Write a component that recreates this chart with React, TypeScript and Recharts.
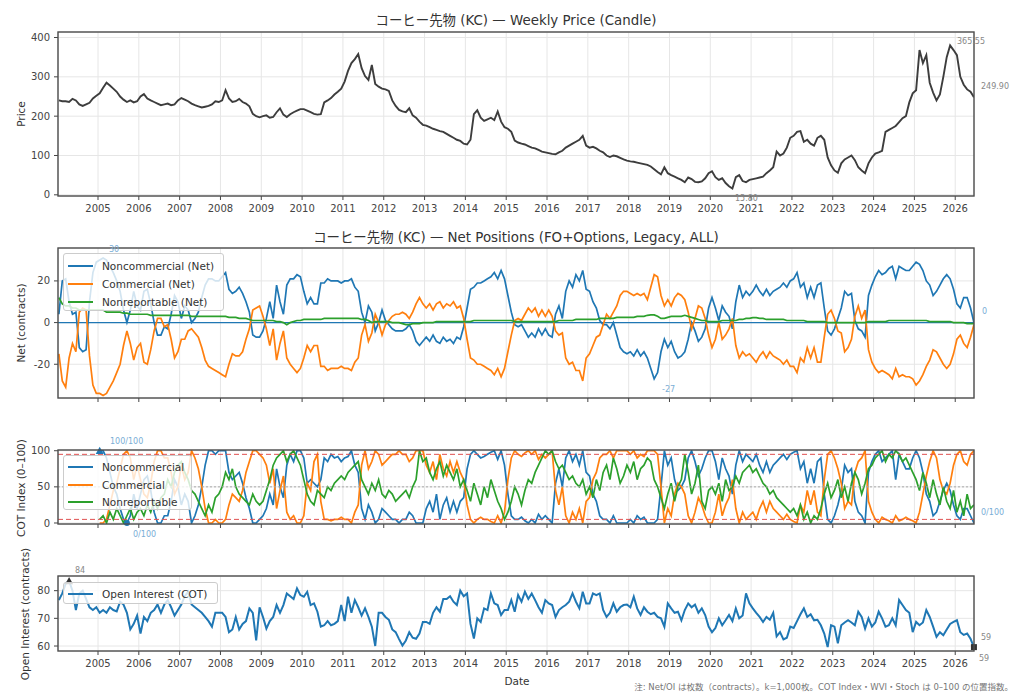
import React from 'react';
import { LineChart, Line, XAxis, YAxis, CartesianGrid, ReferenceLine, ReferenceDot } from 'recharts';

const FONT = "'DejaVu Sans', 'Noto Sans CJK JP', sans-serif";
const C_BLUE = '#1f77b4';
const C_ORANGE = '#ff7f0e';
const C_GREEN = '#2ca02c';
const N = null;

// monthly categories 2004-01 .. 2026-06
const START_YEAR = 2004;
const END_YEAR = 2026;
const END_MONTH = 6;
const MONTHS: string[] = [];
for (let y = START_YEAR; y <= END_YEAR; y++) {
  for (let m = 1; m <= 12; m++) {
    if (y === END_YEAR && m > END_MONTH) break;
    MONTHS.push(`${y}-${String(m).padStart(2, '0')}`);
  }
}

const YEAR_TICKS = [2005, 2006, 2007, 2008, 2009, 2010, 2011, 2012, 2013, 2014, 2015, 2016, 2017, 2018, 2019, 2020, 2021, 2022, 2023, 2024, 2025, 2026];
const PRICE_TICKS = [0, 100, 200, 300, 400];
const NET_TICKS = [-20, 0, 20];
const COT_TICKS = [0, 50, 100];
const OI_TICKS = [60, 70, 80];

const PRICE = [
  240, 238, 238, 236, 244, 240, 230, 226, 230, 234, 245, 252,
  258, 272, 285, 278, 270, 262, 250, 242, 236, 240, 235, 238,
  250, 256, 245, 240, 236, 232, 228, 230, 232, 228, 230, 240,
  246, 242, 238, 232, 228, 225, 222, 224, 226, 230, 238, 236,
  240, 266, 245, 236, 238, 244, 236, 232, 225, 206, 200, 197,
  200, 202, 196, 198, 210, 220, 204, 198, 205, 210, 214, 218,
  218, 214, 210, 206, 204, 205, 235, 240, 246, 255, 262, 270,
  288, 315, 335, 345, 358, 322, 302, 292, 330, 282, 275, 270,
  268, 264, 240, 226, 216, 212, 210, 220, 202, 196, 186, 178,
  176, 172, 168, 165, 162, 160, 155, 150, 145, 140, 137, 130,
  128, 140, 205, 215, 196, 188, 192, 196, 190, 212, 186, 172,
  168, 160, 138, 133, 130, 128, 124, 120, 118, 114, 110, 108,
  106, 104, 103, 108, 112, 120, 125, 130, 135, 140, 150, 125,
  120, 122, 118, 112, 108, 100, 96, 100, 98, 94, 90, 87,
  85, 84, 82, 80, 78, 76, 72, 65, 58, 52, 70, 55,
  50, 46, 42, 38, 32, 44, 40, 33, 32, 34, 42, 55,
  60, 45, 38, 42, 30, 22, 16, 45, 50, 35, 32, 38,
  40, 42, 44, 46, 55, 62, 70, 110, 100, 105, 120, 145,
  150, 160, 162, 135, 140, 130, 125, 145, 150, 140, 95, 75,
  62, 56, 80, 90, 95, 100, 88, 70, 62, 55, 80, 95,
  105, 108, 112, 160, 165, 170, 175, 185, 195, 200, 235, 258,
  266, 368, 335, 355, 285, 260, 240, 255, 300, 350, 380, 368,
  355, 300, 280, 268, 262, 248,
];

const NET_NC = [
  4, 20, 21, 10, 4, 5, -12, -14, -13, 10, 24, 29,
  30, 31, 30, 27, 24, 20, 15, 6, 0, 6, 15, 8,
  6, 15, 16, 9, 0, -6, -6, -2, -3, 4, 13, 10,
  2, 8, 6, 0, 2, 5, 12, 18, 21, 21, 20, 20,
  22, 24, 16, 14, 15, 17, 14, 10, 5, -6, -7, -7,
  -4, 2, 10, 2, 18, 10, 4, 18, 21, 21, 23, 22,
  15, 9, 12, 9, 9, 19, 19, 21, 20, 20, 20, 19,
  20, 20, 21, 17, 15, 5, 0, 8, 5, -4, 0, 6,
  1, -1, -3, -4, -4, -4, -3, -1, -4, -9, -11, -9,
  -7, -9, -6, -9, -10, -7, -9, -8, -10, -7, -8, -2,
  7, 16, 17, 19, 19, 20, 21, 22, 24, 21, 25, 21,
  13, 5, -1, -2, -1, -4, -7, -5, -7, -3, -6, -3,
  -6, -7, 4, 8, 2, 15, 20, 17, 23, 20, 25, 16,
  15, 10, 7, 1, -1, -1, -3, 0, -6, -12, -14, -15,
  -14, -16, -13, -16, -14, -17, -22, -27, -24, -14, -8, -12,
  -9, -14, -17, -16, -14, -8, 0, -4, -9, -7, -3, 7,
  12, 7, 1, 8, 5, 3, -3, 10, 18, 12, 15, 13,
  15, 18, 15, 13, 16, 13, 15, 16, 17, 19, 17, 20,
  21, 24, 17, 19, 12, 17, 12, 18, 19, 7, -4, -6,
  -3, 2, 7, 15, 13, 14, 1, -3, -4, -7, 13, 18,
  22, 25, 23, 24, 26, 27, 21, 27, 26, 25, 25, 27,
  29, 28, 25, 20, 18, 13, 15, 18, 21, 23, 21, 16,
  9, 7, 12, 12, 7, 0,
];

const NET_CM = [
  -15, -28, -31, -17, -10, -14, 5, 7, 6, -16, -30, -34,
  -34, -35, -34, -31, -28, -24, -20, -11, -4, -10, -18, -12,
  -10, -19, -20, -13, -4, 2, 2, -2, -1, -8, -17, -14,
  -8, -8, -4, -3, -5, -7, -12, -18, -21, -22, -23, -24,
  -25, -26, -20, -15, -16, -16, -14, -8, -3, 6, 7, 8,
  3, -3, -11, -3, -18, -10, -4, -17, -20, -22, -24, -22,
  -17, -11, -14, -11, -11, -21, -21, -23, -22, -22, -22, -21,
  -22, -22, -23, -19, -17, -6, -1, -9, -5, 4, 0, -6,
  -1, 1, 3, 4, 4, 5, 4, 2, 5, 9, 12, 9,
  7, 9, 6, 9, 10, 7, 9, 8, 10, 7, 8, 2,
  -8, -17, -18, -20, -20, -21, -22, -23, -25, -22, -26, -22,
  -14, -6, 1, 2, 1, 4, 7, 5, 7, 3, 6, 3,
  6, 3, -4, -6, -5, -17, -20, -19, -23, -23, -28, -17,
  -15, -11, -7, -6, -1, 4, 2, 5, 8, 13, 15, 15,
  14, 13, 14, 13, 14, 11, 17, 23, 22, 13, 8, 11,
  8, 12, 14, 13, 11, 5, -3, 2, 8, 7, 2, -6,
  -12, -8, 0, -8, -6, -3, 2, -11, -17, -14, -16, -15,
  -17, -19, -16, -14, -17, -14, -16, -17, -18, -20, -18, -21,
  -21, -24, -17, -19, -12, -17, -12, -19, -19, -7, 4, 6,
  2, -4, -5, -14, -12, -8, 3, 8, 2, 6, -13, -19,
  -22, -24, -23, -24, -25, -27, -22, -26, -25, -26, -26, -27,
  -30, -28, -25, -21, -18, -13, -14, -17, -20, -22, -20, -15,
  -8, -6, -10, -12, -7, -1,
];

const NET_NR = [
  12, 9, 8, 8, 7, 7, 6, 6, 6, 6, 6, 6,
  6, 6, 5, 5, 5, 5, 5, 4.5, 4.5, 4, 4, 4,
  4, 4, 4, 3.5, 3.5, 3.5, 3.5, 3.5, 3.5, 3.5, 3.5, 3.5,
  3.5, 3.5, 3.5, 3, 3, 3, 3, 3, 3, 3, 3, 3,
  3, 3, 2.5, 2.5, 2.5, 2, 2, 2, 1.5, 1, 1, 1,
  1, 1, 1, 1, 0.5, 0.5, 0, -1, 0, 0.5, 1, 1,
  1.5, 1.5, 1.5, 1.5, 1.5, 1.5, 2, 2, 2, 2, 2, 2,
  2, 2, 2, 2, 2, 1.5, 1.5, 1, 0, 0.5, 0.5, 0.5,
  0.5, 0.5, 0, 0, 0, -0.5, -1, -1, -0.5, -0.5, -0.5, 0,
  0, 0, 0, 0.5, 0.5, 0.5, 0.5, 0.5, 0.5, 0.5, 0.5, 0.5,
  0.5, 0.5, 1, 1, 1, 1, 1, 1, 1, 1, 1, 1,
  1, 1, 0.5, 0.5, 0.5, 0.5, 0.5, 0.5, 0.5, 0.5, 0.5, 0.5,
  0.5, 0.5, 0.5, 1, 1, 1, 1, 1, 1.5, 1.5, 1.5, 1.5,
  1.5, 1.5, 1.5, 2, 2, 2, 2, 2, 2.5, 2.5, 2.5, 2.5,
  2.5, 2.5, 3, 3, 3, 3.5, 3.7, 3.7, 3, 2, 2, 2.5,
  3, 3, 3, 3, 3.5, 3, 2.5, 2, 1.5, 1, 1, 0.5,
  0.5, 0.5, 0.5, 1, 1, 1, 1, 1, 1.5, 1.5, 2, 2,
  2.4, 2.4, 2, 2, 1.5, 1.5, 1.5, 1.5, 1.5, 1.5, 1, 1,
  1, 1, 1, 1, 0.5, 0.5, 0.5, 0.5, 0.5, 0.5, 0, 0,
  0, 0, 0, 0, 0, 0, 0, 0, 0, 0, 0.5, 0.5,
  0.5, 0.5, 0.5, 0.5, 1, 1, 1, 1, 1, 1, 1, 1,
  1, 1, 1, 1, 0.5, 0.5, 0.5, 0.5, 0.5, 0.5, 0.5, 0,
  0, 0, 0, -0.5, -0.5, -0.5,
];

const COT_NC = [
  N, N, N, N, N, N, N, N, N, N, N, N,
  100, 100, 90, 70, 50, 40, 20, 5, 0, 10, 40, 20,
  40, 60, 65, 45, 15, 0, 0, 10, 10, 30, 60, 50,
  25, 40, 30, 0, 10, 25, 50, 80, 100, 100, 95, 100,
  100, 100, 70, 60, 65, 70, 55, 35, 20, 0, 0, 5,
  10, 20, 40, 25, 75, 50, 35, 80, 95, 85, 100, 100,
  90, 55, 60, 55, 50, 60, 90, 85, 95, 90, 92, 85,
  90, 92, 100, 80, 70, 20, 5, 25, 15, 0, 5, 20,
  15, 10, 5, 5, 0, 5, 5, 15, 10, 0, 0, 0,
  20, 30, 15, 40, 5, 25, 35, 15, 30, 15, 30, 35,
  75, 95, 100, 95, 90, 92, 95, 98, 100, 88, 100, 80,
  40, 10, 5, 5, 8, 3, 0, 5, 0, 12, 5, 10,
  5, 0, 55, 75, 50, 90, 100, 85, 95, 80, 100, 70,
  65, 40, 30, 10, 5, 5, 0, 10, 0, 0, 0, 0,
  5, 0, 10, 5, 8, 0, 0, 0, 5, 50, 100, 80,
  90, 60, 45, 50, 60, 90, 100, 85, 65, 75, 90, 100,
  100, 85, 60, 90, 75, 65, 40, 80, 100, 85, 95, 90,
  85, 95, 80, 70, 85, 70, 80, 85, 90, 95, 88, 95,
  98, 100, 75, 85, 55, 75, 55, 85, 90, 40, 5, 0,
  10, 25, 45, 80, 70, 75, 30, 15, 10, 0, 70, 85,
  95, 100, 85, 90, 95, 100, 60, 95, 85, 75, 75, 90,
  100, 90, 70, 40, 30, 10, 15, 30, 45, 55, 45, 25,
  10, 5, 20, 20, 10, 0,
];

const COT_CM = [
  N, N, N, N, N, N, N, N, N, N, N, N,
  0, 0, 5, 25, 45, 55, 75, 95, 100, 90, 60, 80,
  60, 40, 35, 55, 85, 100, 100, 90, 90, 70, 40, 50,
  80, 60, 70, 100, 90, 75, 50, 20, 0, 0, 5, 0,
  0, 5, 25, 40, 35, 30, 45, 70, 85, 100, 100, 95,
  90, 80, 55, 75, 20, 45, 65, 15, 5, 10, 0, 0,
  10, 55, 45, 85, 95, 30, 5, 5, 3, 5, 5, 8,
  5, 5, 0, 15, 25, 80, 100, 75, 85, 100, 95, 80,
  85, 90, 95, 95, 100, 95, 95, 85, 90, 100, 100, 100,
  80, 70, 85, 60, 95, 75, 65, 85, 70, 85, 70, 60,
  25, 5, 0, 5, 8, 5, 5, 2, 0, 10, 0, 15,
  60, 90, 100, 95, 92, 97, 100, 95, 100, 88, 95, 90,
  95, 100, 45, 25, 50, 10, 0, 15, 5, 20, 0, 30,
  35, 60, 70, 90, 95, 95, 100, 90, 100, 100, 100, 100,
  95, 100, 90, 95, 92, 100, 100, 100, 95, 50, 0, 20,
  10, 40, 55, 50, 40, 10, 0, 15, 35, 25, 10, 0,
  0, 15, 40, 10, 25, 35, 60, 20, 0, 15, 5, 10,
  15, 5, 20, 30, 15, 30, 20, 15, 10, 5, 12, 5,
  2, 0, 25, 15, 45, 25, 45, 15, 10, 60, 95, 100,
  90, 75, 55, 20, 30, 25, 70, 85, 90, 100, 30, 15,
  5, 0, 8, 5, 3, 0, 10, 3, 5, 8, 5, 3,
  0, 15, 40, 65, 85, 100, 90, 60, 45, 40, 55, 80,
  95, 100, 85, 80, 95, 100,
];

const COT_NR = [
  N, N, N, N, N, N, N, N, N, N, N, N,
  5, 10, 0, 15, 5, 20, 10, 0, 10, 20, 5, 15,
  20, 10, 25, 15, 30, 20, 35, 40, 60, 50, 70, 80,
  85, 70, 60, 45, 40, 30, 20, 10, 25, 15, 35, 40,
  50, 70, 60, 75, 50, 40, 35, 30, 25, 40, 30, 25,
  30, 45, 60, 80, 90, 95, 100, 85, 95, 100, 90, 80,
  60, 40, 30, 25, 45, 40, 35, 50, 45, 55, 60, 65,
  60, 70, 75, 80, 85, 60, 50, 40, 55, 45, 60, 40,
  35, 45, 40, 30, 35, 40, 45, 35, 50, 60, 100, 85,
  90, 70, 60, 75, 85, 65, 80, 70, 60, 75, 50, 60,
  45, 30, 55, 40, 25, 50, 35, 60, 45, 30, 20, 5,
  15, 30, 50, 40, 25, 45, 60, 55, 70, 80, 90, 100,
  95, 100, 85, 75, 80, 70, 60, 65, 55, 50, 60, 40,
  50, 35, 60, 45, 70, 80, 60, 90, 75, 55, 65, 80,
  70, 85, 60, 75, 80, 90, 85, 60, 50, 35, 20, 40,
  55, 30, 50, 60, 95, 70, 40, 55, 80, 30, 20, 45,
  50, 40, 55, 30, 60, 45, 50, 65, 55, 70, 75, 80,
  70, 75, 65, 55, 50, 40, 45, 35, 30, 25, 20, 15,
  20, 10, 25, 5, 15, 0, 10, 5, 20, 40, 55, 35,
  45, 60, 35, 50, 30, 55, 70, 60, 40, 55, 75, 80,
  90, 95, 100, 85, 95, 90, 100, 95, 85, 90, 80, 70,
  60, 45, 70, 55, 35, 60, 40, 25, 50, 30, 20, 45,
  15, 30, 10, 40, 20, 25,
];

const OI = [
  76.6, 79, 82.5, 83.5, 80, 73, 79, 80, 77, 74, 73, 74,
  72, 73, 72, 74, 73, 72.5, 76, 75, 72, 66, 68, 71,
  64.5, 70.5, 69, 72, 73, 75, 72, 75, 76.6, 74, 71, 73,
  75, 78, 79.6, 75, 74, 73, 72, 70.5, 69, 67, 72, 72,
  72, 70.5, 65, 66, 70.5, 66, 68, 69, 73.6, 72, 62, 74,
  70.5, 66.3, 69, 70.5, 74.8, 72, 74.8, 79, 78, 77, 80.8, 78.4,
  77.8, 79.6, 74.8, 75.4, 72.4, 67, 67.5, 69, 67.5, 68, 69, 74.8,
  69, 77.8, 72, 76.6, 74, 71, 73.6, 70.5, 67, 60, 72, 72,
  70.5, 69.5, 66, 65, 62.5, 60.2, 62, 65, 63, 62.6, 64.5, 68.7,
  68.7, 68, 72, 74, 72.4, 77, 77, 78, 76, 74.8, 80, 78,
  79, 68, 62.7, 70, 68.7, 73.6, 73, 79, 75.4, 74.8, 71.2, 73,
  73, 76.6, 72.4, 78.4, 76, 79.6, 77, 79, 76.6, 74, 72, 76.6,
  75.4, 74.8, 70.5, 73, 74, 74.8, 76, 79, 76, 73.6, 79.6, 75.4,
  75.4, 79, 78.4, 79, 73, 70.5, 72, 75.4, 72.4, 74, 74.8, 75,
  74, 77.8, 73.6, 71.2, 74, 72.4, 71.5, 72, 70.5, 70, 67, 75.4,
  73.6, 72, 72.4, 69.3, 73, 75.4, 74, 75, 72, 73.6, 71.2, 67,
  65, 66.5, 70, 67.5, 69.3, 71.2, 69, 73.6, 70, 71, 79, 75.4,
  73.6, 72, 70.5, 68.7, 70.5, 69.5, 72, 63.5, 65, 62.4, 63, 67,
  66.5, 69, 71.5, 73.6, 70.5, 71.5, 69.3, 69.5, 67.5, 64.5, 59.6, 67.5,
  67, 61, 67.5, 68.5, 69.3, 68.5, 67.5, 72.4, 70.5, 66.3, 70, 67,
  68.5, 72.4, 70, 67, 67.5, 70, 67.5, 76.6, 74.8, 73, 72, 65,
  68.7, 67.5, 68.5, 73, 70.5, 67, 63.3, 65, 63.9, 66, 68, 68.7,
  69.3, 65, 64, 64.5, 62.6, 59.6,
];

const rows = MONTHS.map((m, i) => {
  const [y, mo] = m.split('-').map(Number);
  return {
    t: y + (mo - 0.5) / 12,
    price: PRICE[i],
    nc: NET_NC[i],
    cm: NET_CM[i],
    nr: NET_NR[i],
    cotNc: COT_NC[i],
    cotCm: COT_CM[i],
    cotNr: COT_NR[i],
    oi: OI[i],
  };
});

const X_DOMAIN: [number, number] = [2004.02, 2026.46];
const W = 1024;
const PLOT_L = 58;
const PLOT_R = 974;

const tickStyle = { fontSize: 10, fill: '#444', fontFamily: FONT };

function xAxis(height: number, labels: boolean) {
  return (
    <XAxis
      type="number"
      dataKey="t"
      domain={X_DOMAIN}
      ticks={YEAR_TICKS}
      interval={0}
      allowDataOverflow
      height={height}
      axisLine={false}
      tickSize={4}
      tickMargin={5}
      tickLine={{ stroke: '#444' }}
      tick={tickStyle}
      tickFormatter={labels ? (v: number) => String(v) : () => ''}
    />
  );
}

function yAxis(domain: [number, number], ticks: number[]) {
  return (
    <YAxis
      type="number"
      domain={domain}
      ticks={ticks}
      interval={0}
      allowDataOverflow
      width={PLOT_L}
      axisLine={false}
      tickSize={4}
      tickMargin={4}
      tickLine={{ stroke: '#444' }}
      tick={tickStyle}
    />
  );
}

const grid = <CartesianGrid stroke="#e6e6e6" strokeWidth={1} />;

const tri = (color: string, size: number) => (p: any) => (
  <polygon
    points={`${p.cx},${p.cy - size} ${p.cx - size},${p.cy + size * 0.8} ${p.cx + size},${p.cy + size * 0.8}`}
    fill={color}
  />
);
const sq = (color: string) => (p: any) => (
  <rect x={p.cx - 3} y={p.cy - 3} width={6} height={6} fill={color} />
);
const circ = (color: string) => (p: any) => <circle cx={p.cx} cy={p.cy} r={3} fill={color} />;

const oiMaxIdx = OI.indexOf(Math.max(...OI));
const lastIdx = rows.length - 1;
const ncTopIdx = COT_NC.indexOf(100);
const ncBotIdx = COT_NC.findIndex((v, i) => i > ncTopIdx && v === 0);

type LegendItem = { label: string; color: string };
function Legend({ left, top, width, height, items, rowTop, rowH }: { left: number; top: number; width: number; height: number; items: LegendItem[]; rowTop: number; rowH: number }) {
  return (
    <div
      style={{
        position: 'absolute',
        left,
        top,
        width,
        height,
        boxSizing: 'border-box',
        background: 'rgba(255,255,255,0.8)',
        border: '1px solid #cccccc',
        borderRadius: 3,
        fontFamily: FONT,
        fontSize: 10.5,
        color: '#333',
      }}
    >
      {items.map((it, i) => (
        <div key={it.label} style={{ position: 'absolute', left: 0, top: rowTop + i * rowH - 8, height: 16, width: '100%' }}>
          <div style={{ position: 'absolute', left: 4, top: 7, width: 25, height: 2, background: it.color }} />
          <div style={{ position: 'absolute', left: 38, top: 0, lineHeight: '16px', whiteSpace: 'nowrap' }}>{it.label}</div>
        </div>
      ))}
    </div>
  );
}

export default function App() {
  const line = { type: 'linear' as const, dot: false, activeDot: false, isAnimationActive: false };
  return (
    <div style={{ position: 'absolute', left: 0, top: 0, width: W, height: 699, background: '#fff', fontFamily: FONT, overflow: 'hidden' }}>
      {/* Panel 1: price */}
      <div style={{ position: 'absolute', left: 0, top: 0 }}>
        <LineChart width={W} height={220} data={rows} margin={{ top: 32, right: W - PLOT_R, bottom: 0, left: 0 }}>
          {grid}
          {xAxis(24, true)}
          {yAxis([-3, 414], PRICE_TICKS)}
          <Line {...line} dataKey="price" stroke="#3d3d3d" strokeWidth={1.9} />
        </LineChart>
      </div>

      {/* Panel 2: net positions */}
      <div style={{ position: 'absolute', left: 0, top: 240 }}>
        <LineChart width={W} height={170} data={rows} margin={{ top: 8, right: W - PLOT_R, bottom: 0, left: 0 }}>
          {grid}
          {xAxis(12, false)}
          {yAxis([-36.2, 35.8], NET_TICKS)}
          <ReferenceLine y={0} stroke={C_BLUE} strokeWidth={1.2} />
          <Line {...line} dataKey="nc" stroke={C_BLUE} strokeWidth={1.7} />
          <Line {...line} dataKey="cm" stroke={C_ORANGE} strokeWidth={1.7} />
          <Line {...line} dataKey="nr" stroke={C_GREEN} strokeWidth={1.7} />
        </LineChart>
      </div>

      {/* Panel 3: COT index */}
      <div style={{ position: 'absolute', left: 0, top: 440 }}>
        <LineChart width={W} height={100} data={rows} margin={{ top: 10, right: W - PLOT_R, bottom: 0, left: 0 }}>
          {grid}
          {xAxis(16, false)}
          {yAxis([-1.4, 101], COT_TICKS)}
          <Line {...line} dataKey="cotNc" stroke={C_BLUE} strokeWidth={1.7} />
          <Line {...line} dataKey="cotCm" stroke={C_ORANGE} strokeWidth={1.7} />
          <Line {...line} dataKey="cotNr" stroke={C_GREEN} strokeWidth={1.7} />
          <ReferenceLine y={95} stroke="#e05050" strokeDasharray="5 3" strokeWidth={1} />
          <ReferenceLine y={5} stroke="#e05050" strokeDasharray="5 3" strokeWidth={1} />
          <ReferenceLine y={50} stroke="#aaaaaa" strokeDasharray="2 2" strokeWidth={1} />
          <ReferenceDot x={rows[ncTopIdx].t} y={100} r={3} shape={tri(C_BLUE, 4)} ifOverflow="visible" />
          <ReferenceDot x={rows[ncBotIdx].t} y={0} r={3} shape={circ(C_BLUE)} ifOverflow="visible" />
        </LineChart>
      </div>

      {/* Panel 4: open interest */}
      <div style={{ position: 'absolute', left: 0, top: 560 }}>
        <LineChart width={W} height={120} data={rows} margin={{ top: 16, right: W - PLOT_R, bottom: 0, left: 0 }}>
          {grid}
          {xAxis(29, true)}
          {yAxis([58.2, 85.3], OI_TICKS)}
          <Line {...line} dataKey="oi" stroke={C_BLUE} strokeWidth={2} />
          <ReferenceDot x={rows[oiMaxIdx].t} y={OI[oiMaxIdx]} r={3} shape={tri('#333', 4)} ifOverflow="visible" />
          <ReferenceDot x={rows[lastIdx].t} y={OI[lastIdx]} r={3} shape={sq('#333')} ifOverflow="visible" />
        </LineChart>
      </div>

      {/* Legends */}
      <Legend left={63} top={253} width={161} height={58} rowTop={12} rowH={18}
        items={[{ label: 'Noncommercial (Net)', color: C_BLUE }, { label: 'Commercial (Net)', color: C_ORANGE }, { label: 'Nonreportable (Net)', color: C_GREEN }]} />
      <Legend left={63} top={455} width={129} height={55} rowTop={11} rowH={17.5}
        items={[{ label: 'Noncommercial', color: C_BLUE }, { label: 'Commercial', color: C_ORANGE }, { label: 'Nonreportable', color: C_GREEN }]} />
      <Legend left={63} top={582} width={155} height={22} rowTop={11} rowH={18}
        items={[{ label: 'Open Interest (COT)', color: C_BLUE }]} />

      {/* Text, frames */}
      <svg width={W} height={699} style={{ position: 'absolute', left: 0, top: 0, pointerEvents: 'none' }} fontFamily={FONT}>
        <rect x={PLOT_L} y={32} width={PLOT_R - PLOT_L} height={164} fill="none" stroke="#4d4d4d" strokeWidth={1.4} />
        <rect x={PLOT_L} y={248} width={PLOT_R - PLOT_L} height={150} fill="none" stroke="#4d4d4d" strokeWidth={1.4} />
        <rect x={PLOT_L} y={450} width={PLOT_R - PLOT_L} height={74} fill="none" stroke="#4d4d4d" strokeWidth={1.4} />
        <rect x={PLOT_L} y={576} width={PLOT_R - PLOT_L} height={75} fill="none" stroke="#4d4d4d" strokeWidth={1.4} />

        <text x={516} y={20.5} textAnchor="middle" dominantBaseline="central" fontSize={13.4} fill="#333">コーヒー先物 (KC) — Weekly Price (Candle)</text>
        <text x={516} y={237} textAnchor="middle" dominantBaseline="central" fontSize={13.4} fill="#333">コーヒー先物 (KC) — Net Positions (FO+Options, Legacy, ALL)</text>

        <text transform="translate(21,114) rotate(-90)" textAnchor="middle" dominantBaseline="central" fontSize={10.5} fill="#333">Price</text>
        <text transform="translate(21,323) rotate(-90)" textAnchor="middle" dominantBaseline="central" fontSize={10.5} fill="#333">Net (contracts)</text>
        <text transform="translate(21,488) rotate(-90)" textAnchor="middle" dominantBaseline="central" fontSize={10.5} fill="#333">COT Index (0–100)</text>
        <text transform="translate(25,614) rotate(-90)" textAnchor="middle" dominantBaseline="central" fontSize={10.5} fill="#333">Open Interest (contracts)</text>
        <text x={517} y={681} textAnchor="middle" dominantBaseline="central" fontSize={10.5} fill="#333">Date</text>
        <text x={1013} y={687} textAnchor="end" dominantBaseline="central" fontSize={8.5} fill="#777">注: Net/OI は枚数（contracts）。k=1,000枚。COT Index・WVI・Stoch は 0–100 の位置指数。</text>

        <text x={957} y={41.5} dominantBaseline="central" fontSize={8} fill="#888">365.55</text>
        <text x={981} y={86} dominantBaseline="central" fontSize={8} fill="#888">249.90</text>
        <text x={735} y={198.5} dominantBaseline="central" fontSize={8} fill="#888">15.80</text>
        <text x={109} y={249.5} dominantBaseline="central" fontSize={8} fill="#7aaed6">30</text>
        <text x={982} y={311} dominantBaseline="central" fontSize={8} fill="#7aaed6">0</text>
        <text x={662} y={389.5} dominantBaseline="central" fontSize={8} fill="#7aaed6">-27</text>
        <text x={110} y={441} dominantBaseline="central" fontSize={8} fill="#7aaed6">100/100</text>
        <text x={133} y={534} dominantBaseline="central" fontSize={8} fill="#7aaed6">0/100</text>
        <text x={981} y={512.5} dominantBaseline="central" fontSize={8} fill="#7aaed6">0/100</text>
        <text x={75} y={570} dominantBaseline="central" fontSize={8} fill="#888">84</text>
        <text x={981} y={637.5} dominantBaseline="central" fontSize={8} fill="#888">59</text>
        <text x={979} y={658.5} dominantBaseline="central" fontSize={8} fill="#888">59</text>
      </svg>
    </div>
  );
}
